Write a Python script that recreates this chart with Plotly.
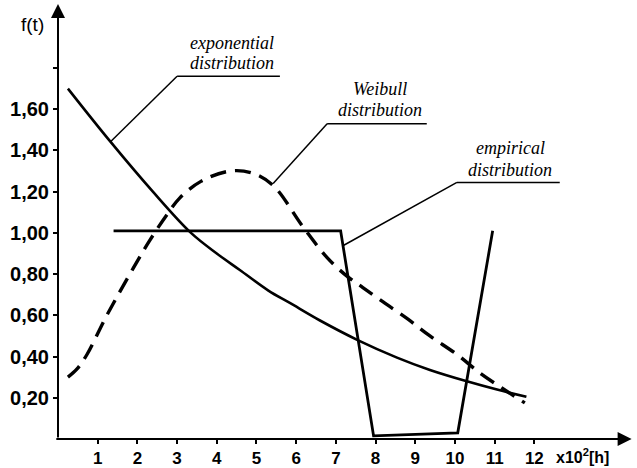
import plotly.graph_objects as go

# ---- data ----
t_exp = [0.25, 1.31, 2.39, 3.35, 4.0, 4.58, 5.3, 5.84, 6.6, 7.55, 8.54, 9.37, 10.3, 11.06, 11.8]
f_exp = [1.70, 1.445, 1.20, 1.00, 0.90, 0.82, 0.72, 0.66, 0.575, 0.48, 0.395, 0.335, 0.28, 0.24, 0.205]

t_weib = [0.25, 0.48, 0.73, 1.23, 1.9, 2.3, 2.75, 3.07, 3.6, 4.33, 4.9, 5.42, 6.17, 6.78, 7.28, 7.68,
          8.19, 8.79, 9.37, 10.05, 10.63, 11.2, 11.76]
f_weib = [0.30, 0.34, 0.41, 0.60, 0.83, 0.96, 1.09, 1.17, 1.25, 1.30, 1.29, 1.23, 1.03, 0.88, 0.79, 0.735,
          0.665, 0.585, 0.50, 0.41, 0.32, 0.245, 0.175]

t_emp = [1.4, 7.12, 7.95, 10.07, 10.95]
f_emp = [1.01, 1.01, 0.015, 0.03, 1.01]

y_tickvals = [0.2, 0.4, 0.6, 0.8, 1.0, 1.2, 1.4, 1.6, 1.8]
y_ticktext = ["0,20", "0,40", "0,60", "0,80", "1,00", "1,20", "1,40", "1,60", ""]
x_tickvals = [1, 2, 3, 4, 5, 6, 7, 8, 9, 10, 11, 12]
x_ticktext = [str(v) for v in x_tickvals]

labels = [
    ("exponential", 4.38, 1.92), ("distribution", 4.38, 1.825),
    ("Weibull", 8.11, 1.70), ("distribution", 8.11, 1.595),
    ("empirical", 11.39, 1.41), ("distribution", 11.39, 1.305),
]
leaders = [
    [(1.31, 1.44), (3.0, 1.76), (5.59, 1.76)],
    [(5.42, 1.24), (6.78, 1.53), (9.29, 1.53)],
    [(7.2, 0.94), (10.05, 1.245), (12.64, 1.245)],
]

fig = go.Figure()
fig.add_trace(go.Scatter(x=t_exp, y=f_exp, mode="lines",
                         line=dict(color="black", width=2.6, shape="spline", smoothing=1.0),
                         hoverinfo="skip", showlegend=False))
fig.add_trace(go.Scatter(x=t_weib, y=f_weib, mode="lines",
                         line=dict(color="black", width=3.4, shape="spline", smoothing=1.0,
                                   dash="16px,9px"),
                         hoverinfo="skip", showlegend=False))
fig.add_trace(go.Scatter(x=t_emp, y=f_emp, mode="lines",
                         line=dict(color="black", width=2.8),
                         hoverinfo="skip", showlegend=False))

for pts in leaders:
    for (x0, y0), (x1, y1) in zip(pts[:-1], pts[1:]):
        fig.add_shape(type="line", xref="x", yref="y", x0=x0, y0=y0, x1=x1, y1=y1,
                      line=dict(color="black", width=1.5))

serif = dict(family="Liberation Serif, Times New Roman, serif", size=18, color="black", style="italic")
for txt, x, y in labels:
    fig.add_annotation(x=x, y=y, xref="x", yref="y", text=txt, showarrow=False, font=serif)

# axes with arrows
fig.add_annotation(x=14.45, y=0, ax=-0.08, ay=0, xref="x", yref="y", axref="x", ayref="y",
                   text="", showarrow=True, arrowhead=2, arrowsize=1.4, arrowwidth=2,
                   arrowcolor="black")
fig.add_annotation(x=0, y=2.11, ax=0, ay=0, xref="x", yref="y", axref="x", ayref="y",
                   text="", showarrow=True, arrowhead=2, arrowsize=1.4, arrowwidth=2,
                   arrowcolor="black")

fig.add_annotation(x=-0.045, y=0.944, xref="paper", yref="paper", text="f(t)", showarrow=False,
                   xanchor="center", yanchor="middle",
                   font=dict(family="Liberation Sans, Arial, sans-serif", size=19, color="black"))
fig.add_annotation(x=0.913, y=-0.038, xref="paper", yref="paper", text="x10<sup>2</sup>[h]",
                   showarrow=False, xanchor="center", yanchor="middle",
                   font=dict(family="Liberation Sans, Arial, sans-serif", size=16, color="black",
                             weight="bold"))

xtickfont = dict(family="Liberation Sans, Arial, sans-serif", size=17, color="black", weight="bold")
ytickfont = dict(family="Liberation Sans, Arial, sans-serif", size=20, color="black", weight="bold")
fig.update_layout(
    width=637, height=468,
    margin=dict(l=58, r=5, t=0, b=25),
    paper_bgcolor="white", plot_bgcolor="white",
    xaxis=dict(range=[0, 14.46], showgrid=False, zeroline=False, showline=False,
               tickmode="array", tickvals=x_tickvals, ticktext=x_ticktext,
               ticks="outside", ticklen=4, tickwidth=1.5, tickcolor="black",
               tickfont=xtickfont, fixedrange=True),
    yaxis=dict(range=[0, 2.13], showgrid=False, zeroline=False, showline=False,
               tickmode="array", tickvals=y_tickvals, ticktext=y_ticktext,
               ticks="outside", ticklen=4, tickwidth=1.5, tickcolor="black",
               tickfont=ytickfont, fixedrange=True),
)

fig.write_html("out.html")
